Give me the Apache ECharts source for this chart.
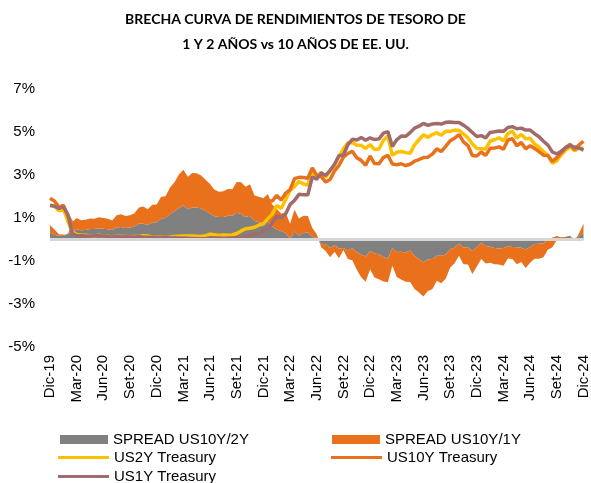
<!DOCTYPE html>
<html>
<head>
<meta charset="utf-8">
<title>Brecha curva de rendimientos</title>
<script src="https://cdn.jsdelivr.net/npm/echarts@6/dist/echarts.min.js"></script>
<style>
    html, body { margin: 0; padding: 0; background: #fff; }
    #chart { width: 591px; height: 483px; }
</style>
</head>
<body>
<div id="chart"></div>
<script>
// puntos quincenales: 31-dic-19 ... 31-dic-24 (121 puntos)
var tickLabels = ['Dic-19','Mar-20','Jun-20','Set-20','Dic-20','Mar-21','Jun-21','Set-21','Dic-21',
    'Mar-22','Jun-22','Set-22','Dic-22','Mar-23','Jun-23','Set-23','Dic-23','Mar-24','Jun-24','Set-24','Dic-24'];

var us10y = [1.92,1.79,1.51,1.59,1.13,0.73,0.70,0.63,0.64,0.64,0.65,0.71,
    0.66,0.63,0.55,0.71,0.72,0.68,0.69,0.74,0.88,0.91,0.84,0.92,
    0.93,1.11,1.11,1.30,1.44,1.62,1.74,1.57,1.65,1.64,1.58,1.50,
    1.45,1.30,1.24,1.26,1.31,1.31,1.52,1.59,1.55,1.63,1.43,1.47,
    1.52,1.79,1.79,2.05,1.83,2.15,2.32,2.83,2.89,2.88,2.85,3.33,
    2.98,2.93,2.67,2.79,3.19,3.45,3.83,4.00,4.10,3.80,3.68,3.45,
    3.88,3.53,3.52,3.81,3.92,3.51,3.48,3.52,3.44,3.50,3.64,3.72,
    3.81,3.83,3.97,4.22,4.09,4.33,4.59,4.71,4.88,4.54,4.37,3.91,
    3.88,4.07,3.91,4.24,4.25,4.31,4.20,4.63,4.69,4.36,4.51,4.22,
    4.36,4.23,4.09,3.92,3.91,3.63,3.81,4.03,4.28,4.43,4.18,4.40,
    4.57];

var us2y = [1.58,1.57,1.33,1.43,0.86,0.36,0.23,0.20,0.20,0.15,0.16,0.20,
    0.16,0.15,0.11,0.15,0.14,0.14,0.13,0.14,0.14,0.18,0.16,0.12,
    0.13,0.13,0.11,0.11,0.14,0.15,0.16,0.16,0.16,0.15,0.14,0.17,
    0.25,0.22,0.19,0.21,0.20,0.21,0.28,0.40,0.50,0.52,0.57,0.67,
    0.73,0.97,1.18,1.58,1.44,1.85,2.28,2.46,2.70,2.58,2.53,3.20,
    2.92,3.13,2.89,3.19,3.45,3.87,4.22,4.50,4.51,4.38,4.38,4.24,
    4.41,4.18,4.21,4.62,4.81,3.91,4.06,4.09,4.04,4.01,4.40,4.64,
    4.87,4.75,4.88,4.97,4.85,5.03,5.03,5.09,5.07,4.91,4.73,4.45,
    4.23,4.22,4.21,4.58,4.64,4.73,4.59,4.93,5.04,4.72,4.89,4.68,
    4.71,4.44,4.29,4.09,3.91,3.55,3.66,3.94,4.16,4.31,4.13,4.25,
    4.25];

var us1y = [1.59,1.55,1.45,1.52,1.17,0.29,0.17,0.17,0.16,0.15,0.17,0.18,
    0.16,0.14,0.11,0.14,0.12,0.13,0.12,0.12,0.13,0.11,0.11,0.10,
    0.10,0.10,0.10,0.07,0.08,0.07,0.07,0.06,0.05,0.05,0.04,0.05,
    0.07,0.07,0.07,0.06,0.07,0.07,0.09,0.12,0.15,0.17,0.24,0.28,
    0.39,0.49,0.78,1.09,1.01,1.19,1.63,1.82,2.10,2.08,2.08,2.92,
    2.80,3.09,2.98,3.22,3.50,3.90,3.93,4.41,4.66,4.63,4.74,4.62,
    4.73,4.65,4.68,4.95,5.02,4.33,4.64,4.81,4.80,4.97,5.18,5.27,
    5.40,5.31,5.37,5.39,5.37,5.45,5.46,5.44,5.44,5.32,5.17,4.98,
    4.79,4.83,4.73,4.98,5.01,5.05,5.03,5.21,5.25,5.15,5.18,5.09,
    5.09,4.92,4.78,4.57,4.39,4.07,3.98,4.11,4.27,4.37,4.30,4.26,
    4.16];

// spread 10Y - 2Y
var spread2y = [0.34,0.22,0.18,0.16,0.27,0.37,0.47,0.43,0.44,0.49,0.49,0.51,
    0.50,0.48,0.44,0.56,0.58,0.54,0.56,0.60,0.74,0.73,0.68,0.80,
    0.80,0.98,1.00,1.19,1.30,1.47,1.58,1.41,1.49,1.49,1.44,1.33,
    1.20,1.08,1.05,1.05,1.11,1.10,1.24,1.19,1.05,1.11,0.86,0.80,
    0.79,0.82,0.61,0.47,0.39,0.30,0.04,0.37,0.19,0.30,0.32,0.13,
    0.06,-0.20,-0.22,-0.40,-0.26,-0.42,-0.39,-0.50,-0.41,-0.58,-0.70,-0.79,
    -0.53,-0.65,-0.69,-0.81,-0.89,-0.40,-0.58,-0.57,-0.60,-0.51,-0.76,-0.92,
    -1.06,-0.92,-0.91,-0.75,-0.76,-0.70,-0.44,-0.38,-0.19,-0.37,-0.36,-0.54,
    -0.35,-0.15,-0.30,-0.34,-0.39,-0.42,-0.39,-0.30,-0.35,-0.36,-0.38,-0.46,
    -0.35,-0.21,-0.20,-0.17,0.00,0.08,0.15,0.09,0.12,0.12,0.05,0.15,
    0.32];

// spread 10Y - 1Y
var spread1y = [0.33,0.24,0.06,0.07,-0.04,0.44,0.53,0.46,0.48,0.49,0.48,0.53,
    0.50,0.49,0.44,0.57,0.60,0.55,0.57,0.62,0.75,0.80,0.73,0.82,
    0.83,1.01,1.01,1.23,1.36,1.55,1.67,1.51,1.60,1.59,1.54,1.45,
    1.38,1.23,1.17,1.20,1.24,1.24,1.43,1.47,1.40,1.46,1.19,1.19,
    1.13,1.30,1.01,0.96,0.82,0.96,0.69,1.01,0.79,0.80,0.77,0.41,
    0.18,-0.16,-0.31,-0.43,-0.31,-0.45,-0.10,-0.41,-0.56,-0.83,-1.06,-1.17,
    -0.85,-1.12,-1.16,-1.14,-1.10,-0.82,-1.16,-1.29,-1.36,-1.47,-1.54,-1.55,
    -1.59,-1.48,-1.40,-1.17,-1.28,-1.12,-0.87,-0.73,-0.56,-0.78,-0.80,-1.07,
    -0.91,-0.76,-0.82,-0.74,-0.76,-0.74,-0.83,-0.58,-0.56,-0.79,-0.67,-0.87,
    -0.73,-0.69,-0.69,-0.65,-0.48,-0.44,-0.17,-0.08,0.01,0.06,-0.12,0.14,
    0.41];

// etiquetas de categoria (mitad de mes / fin de mes)
var categories = ['2019-12-31'];
for (var y = 2020; y <= 2024; y++) {
    for (var m = 1; m <= 12; m++) {
        var mm = (m < 10 ? '0' : '') + m;
        categories.push(y + '-' + mm + '-15');
        categories.push(y + '-' + mm + '-fin');
    }
}

var font = 'Liberation Sans, Arial, sans-serif';
var cGray = '#808080', cOrange = '#E9711C', cYellow = '#FFC000', cBrown = '#A26B6B';

function legendBox(name, left, top, h, w) {
    return {
        data: [{ name: name, icon: 'rect' }],
        left: left, top: top, padding: 0,
        itemWidth: w, itemHeight: h,
        selectedMode: false,
        textStyle: { fontFamily: font, fontSize: 15, color: '#000' }
    };
}

var myChart = echarts.init(document.getElementById('chart'));
myChart.setOption({
    animation: false,
    backgroundColor: '#fff',
    title: {
        text: 'BRECHA CURVA DE RENDIMIENTOS DE TESORO DE\n1 Y 2 AÑOS vs 10 AÑOS DE EE. UU.',
        left: 'center', top: 2,
        textStyle: { fontFamily: 'Lato, sans-serif', fontWeight: 'bold', fontSize: 14, lineHeight: 25, color: '#000', align: 'center' }
    },
    legend: [
        legendBox('SPREAD US10Y/2Y', 60, 432, 9, 48),
        legendBox('SPREAD US10Y/1Y', 332, 432, 9, 48),
        legendBox('US2Y Treasury', 58, 450, 3, 51),
        legendBox('US10Y Treasury', 331, 450, 3, 51),
        legendBox('US1Y Treasury', 58, 469, 3, 51)
    ],
    grid: { left: 50, right: 6, top: 89, bottom: 136 },
    xAxis: {
        type: 'category',
        data: categories,
        boundaryGap: false,
        axisLine: { show: false },
        axisTick: { show: false },
        axisLabel: {
            interval: 5, rotate: 90, margin: 8,
            fontFamily: font, fontSize: 15, color: '#000',
            formatter: function (v, i) { return tickLabels[i / 6]; }
        }
    },
    yAxis: {
        type: 'value', min: -5, max: 7, interval: 2,
        axisLine: { show: false },
        axisTick: { show: false },
        splitLine: { show: false },
        axisLabel: { margin: 15, fontFamily: font, fontSize: 15, color: '#000', formatter: '{value}%' }
    },
    series: [
        {
            name: 'SPREAD US10Y/2Y', type: 'line', data: spread2y,
            stack: 'spread', stackStrategy: 'all',
            symbol: 'none', lineStyle: { width: 0 },
            itemStyle: { color: cGray },
            areaStyle: { color: cGray, opacity: 1 }
        },
        {
            name: 'SPREAD US10Y/1Y', type: 'line', data: spread1y,
            stack: 'spread', stackStrategy: 'all',
            symbol: 'none', lineStyle: { width: 0 },
            itemStyle: { color: cOrange },
            areaStyle: { color: cOrange, opacity: 1 },
            markLine: {
                silent: true, symbol: ['none', 'none'],
                label: { show: false },
                lineStyle: { color: '#D6D6D6', width: 3, type: 'solid' },
                data: [{ yAxis: 0 }]
            }
        },
        {
            name: 'US2Y Treasury', type: 'line', data: us2y,
            symbol: 'none', itemStyle: { color: cYellow },
            lineStyle: { color: cYellow, width: 3.5 }
        },
        {
            name: 'US10Y Treasury', type: 'line', data: us10y,
            symbol: 'none', itemStyle: { color: cOrange },
            lineStyle: { color: cOrange, width: 3.5 }
        },
        {
            name: 'US1Y Treasury', type: 'line', data: us1y,
            symbol: 'none', itemStyle: { color: cBrown },
            lineStyle: { color: cBrown, width: 3.5 }
        }
    ]
});
</script>
</body>
</html>
